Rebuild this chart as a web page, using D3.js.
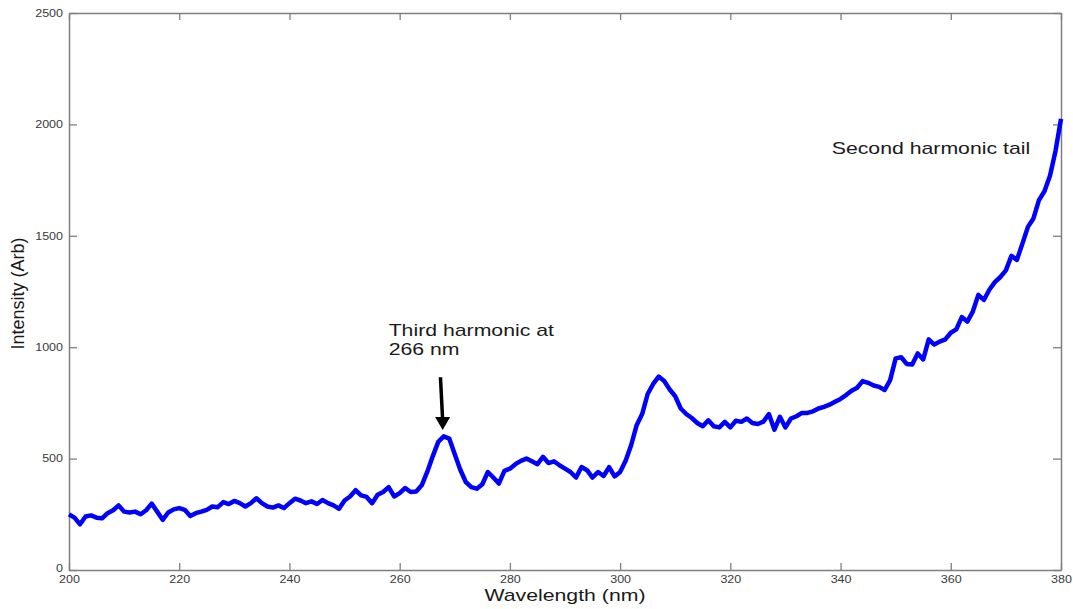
<!DOCTYPE html>
<html>
<head>
<meta charset="utf-8">
<script src="https://cdn.jsdelivr.net/npm/d3@7"></script>
<style>
  html, body { margin: 0; padding: 0; background: #fff; }
  svg { display: block; }
  text { font-family: "Liberation Sans", Arial, sans-serif; }
</style>
</head>
<body>
<svg id="chart" width="1073" height="609"></svg>
<script>
// ---- data ----
const wlStart = 200;  // nm, first sample; one sample per nm
const intensity = [
  250,235,205,240,245,235,232,255,268,290,
  262,258,262,250,268,298,262,225,258,272,
  278,270,242,255,262,270,285,282,305,296,
  310,300,285,300,322,300,285,280,290,278,
  300,320,312,300,308,296,314,300,290,275,
  312,330,358,335,328,300,338,350,372,330,
  345,368,350,352,380,440,510,575,600,590,
  520,450,395,372,365,385,440,415,388,445,
  455,475,490,500,488,475,508,480,488,470,
  455,440,415,462,448,415,440,422,462,420,
  440,490,560,650,700,790,835,868,848,810,
  780,725,700,682,660,645,672,645,640,665,
  640,670,665,680,660,655,666,700,630,688,
  640,680,690,705,705,712,725,732,742,755,
  768,785,805,818,848,840,828,822,808,852,
  950,955,925,922,972,945,1035,1012,1025,1035,
  1065,1080,1135,1115,1160,1235,1212,1258,1292,1315,
  1345,1410,1392,1465,1540,1578,1660,1700,1770,1880,
  2025
];
const wavelength = intensity.map((_, i) => wlStart + i);

const xTicks = [200, 220, 240, 260, 280, 300, 320, 340, 360, 380];
const yTicks = [0, 500, 1000, 1500, 2000, 2500];
const xDomain = [200, 380];
const yDomain = [0, 2500];

const xLabel = "Wavelength (nm)";
const yLabel = "Intensity (Arb)";
const noteThird = ["Third harmonic at", "266 nm"];
const noteSecond = "Second harmonic tail";

// ---- layout ----
const svg = d3.select("#chart");
const L = 69, R = 1061, T = 13, B = 570;
const x = d3.scaleLinear().domain(xDomain).range([L, R]);
const y = d3.scaleLinear().domain(yDomain).range([B, T]);
const STRETCH = 1.25;
const axisColor = "#7f7f7f";
const labelColor = "#3a3a3a";

function stretch(sel, k) {
  sel.each(function () {
    const w = this.getComputedTextLength();
    d3.select(this).attr("textLength", w * (k || STRETCH)).attr("lengthAdjust", "spacingAndGlyphs");
  });
}

// axes
function styleAxis(g) {
  g.selectAll("path.domain").attr("stroke", axisColor).attr("stroke-width", 1.5);
  g.selectAll(".tick line").attr("stroke", axisColor).attr("stroke-width", 1.3);
  g.selectAll(".tick text").attr("fill", labelColor).style("font-size", "10px")
    .style("font-family", '"Liberation Sans", Arial, sans-serif');
}

const gx = svg.append("g").attr("transform", `translate(0,${B})`)
  .call(d3.axisBottom(x).tickValues(xTicks).tickFormat(d3.format("d"))
    .tickSize(-7).tickSizeOuter(0).tickPadding(6));
styleAxis(gx);
stretch(gx.selectAll(".tick text"));

const gxt = svg.append("g").attr("transform", `translate(0,${T})`)
  .call(d3.axisTop(x).tickValues(xTicks).tickFormat("").tickSize(-7).tickSizeOuter(0));
styleAxis(gxt);

const gy = svg.append("g").attr("transform", `translate(${L},0)`)
  .call(d3.axisLeft(y).tickValues(yTicks).tickFormat(d3.format("d"))
    .tickSize(-8).tickSizeOuter(0).tickPadding(6));
styleAxis(gy);
stretch(gy.selectAll(".tick text"));
gy.selectAll(".tick text").filter(d => d === 0).attr("dy", "0.15em");

const gyr = svg.append("g").attr("transform", `translate(${R},0)`)
  .call(d3.axisRight(y).tickValues(yTicks).tickFormat("").tickSize(-8).tickSizeOuter(0));
styleAxis(gyr);

// axis titles
svg.append("text")
  .attr("x", (L + R) / 2).attr("y", 601)
  .attr("text-anchor", "middle").attr("fill", "#1a1a1a")
  .style("font-size", "17px")
  .text(xLabel)
  .call(stretch);

svg.append("text")
  .attr("transform", `translate(24,${(T + B) / 2 + 2}) rotate(-90)`)
  .attr("text-anchor", "middle").attr("fill", "#1a1a1a")
  .style("font-size", "18px")
  .text(yLabel);

// spectrum line
const line = d3.line()
  .x((d, i) => x(wavelength[i]))
  .y(d => y(d));

svg.append("path")
  .datum(intensity)
  .attr("fill", "none")
  .attr("stroke", "#0000ff")
  .attr("stroke-width", 4.5)
  .attr("stroke-linejoin", "round")
  .attr("d", line);

// annotations
const t1 = svg.append("g");
t1.selectAll("text").data(noteThird).join("text")
  .attr("x", x(258.0))
  .attr("y", (d, i) => y(1051) + i * 19.5)
  .attr("fill", "#1a1a1a")
  .style("font-size", "17px")
  .text(d => d)
  .call(stretch);

svg.append("text")
  .attr("x", x(338.4)).attr("y", y(1866))
  .attr("fill", "#1a1a1a")
  .style("font-size", "17px")
  .text(noteSecond)
  .call(stretch);

// arrow
const tail = [267.4, 865], tip = [267.8, 628];
const x0 = x(tail[0]), y0 = y(tail[1]), x1 = x(tip[0]), y1 = y(tip[1]);
svg.append("line")
  .attr("x1", x0).attr("y1", y0).attr("x2", x1).attr("y2", y1 - 10)
  .attr("stroke", "#000").attr("stroke-width", 3.5);
svg.append("path")
  .attr("d", `M${x1 - 7.5},${y1 - 13} L${x1 + 7.5},${y1 - 13} L${x1},${y1} Z`)
  .attr("fill", "#000");
</script>
</body>
</html>
